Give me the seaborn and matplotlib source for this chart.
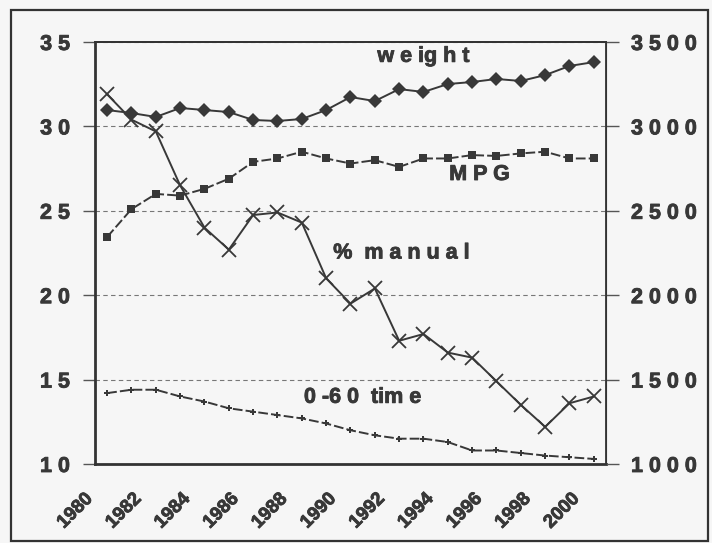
import matplotlib
matplotlib.use("Agg")
import matplotlib.pyplot as plt
import matplotlib.transforms as mtransforms
import matplotlib.patheffects as pe
from matplotlib.patches import Rectangle
import seaborn as sns
import pandas as pd

# ---- data ----
years = list(range(1980, 2001))
weight = [3097, 3079, 3056, 3109, 3097, 3085, 3038, 3032, 3044, 3097, 3174,
          3150, 3221, 3204, 3251, 3263, 3281, 3269, 3304, 3358, 3381]
mpg = [23.45, 25.1, 26.0, 25.9, 26.3, 26.9, 27.9, 28.1, 28.5, 28.1, 27.8,
       28.0, 27.6, 28.1, 28.1, 28.3, 28.25, 28.4, 28.5, 28.1, 28.1]
pct_manual = [31.9, 30.4, 29.7, 26.5, 24.0, 22.7, 24.75, 24.9, 24.3, 21.0, 19.5,
              20.4, 17.3, 17.7, 16.6, 16.3, 14.9, 13.5, 12.2, 13.6, 14.0]
zero60 = [14.2, 14.4, 14.4, 14.0, 13.7, 13.3, 13.1, 12.9, 12.7, 12.4, 12.0,
          11.7, 11.5, 11.5, 11.3, 10.8, 10.8, 10.65, 10.5, 10.4, 10.3]
left_ticks = [10, 15, 20, 25, 30, 35]
right_ticks = [1000, 1500, 2000, 2500, 3000, 3500]
year_labels = list(range(1980, 2001, 2))

df = pd.DataFrame({"year": years, "weight": weight, "mpg": mpg,
                   "manual": pct_manual, "zero60": zero60})

sns.set_style("white")
plt.rcParams["font.family"] = ["Liberation Sans", "DejaVu Sans"]
plt.rcParams["font.weight"] = "bold"

INK = "#383838"
BG = "#f6f6f6"
thick = [pe.withStroke(linewidth=0.6, foreground=INK)]

fig = plt.figure(figsize=(7.12, 5.43), dpi=100, facecolor=BG)
ax = fig.add_axes([95 / 712, 79 / 543, 511 / 712, 422 / 543])
ax.set_facecolor(BG)
ax2 = ax.twinx()

lw = 1.4
sns.lineplot(data=df, x="year", y="mpg", ax=ax, color=INK, lw=lw,
             linestyle=(0, (5, 1.6)), marker="s", markersize=5.5,
             markeredgewidth=0, markerfacecolor=INK)
sns.lineplot(data=df, x="year", y="manual", ax=ax, color=INK, lw=lw,
             marker="x", markersize=9.5, markeredgewidth=1.3,
             markeredgecolor=INK)
sns.lineplot(data=df, x="year", y="zero60", ax=ax, color=INK, lw=lw,
             linestyle=(0, (5, 1.6)), marker="P", markersize=4.5,
             markeredgewidth=0, markerfacecolor=INK)
sns.lineplot(data=df, x="year", y="weight", ax=ax2, color=INK, lw=lw,
             marker="D", markersize=7, markeredgewidth=0,
             markerfacecolor=INK)

# axes limits
ax.set_xlim(years[0] - 0.5, years[-1] + 0.5)
ax.set_ylim(10, 35)
ax2.set_ylim(1000, 3500)

# y ticks (digits spaced like the original)
def spaced(v):
    return " ".join(str(v))

ax.set_yticks(left_ticks)
ax.set_yticklabels([spaced(v) for v in left_ticks], fontsize=15.5,
                   fontweight="bold", color=INK)
ax2.set_yticks(right_ticks)
ax2.set_yticklabels([spaced(v) for v in right_ticks], fontsize=15.5,
                    fontweight="bold", color=INK)
ax.tick_params(axis="y", direction="out", length=9, width=1, color="#555555",
               pad=9)
ax2.tick_params(axis="y", direction="out", length=9, width=1, color="#555555",
                pad=9)

# x ticks: marks between categories, labels every second year
ax.set_xticks([y - 0.5 for y in years] + [years[-1] + 0.5], minor=True)
ax.set_xticks(year_labels)
ax.set_xticklabels([str(y) for y in year_labels], rotation=45, ha="right",
                   fontsize=13.5, fontweight="bold", color=INK)
ax.tick_params(axis="x", which="major", length=0, pad=2)
ax.tick_params(axis="x", which="minor", direction="out", length=5, width=1,
               color="#555555")
offset = mtransforms.ScaledTranslation(-8 / 72, -17 / 72, fig.dpi_scale_trans)
for lab in ax.get_xticklabels():
    lab.set_transform(lab.get_transform() + offset)

for lab in ax.get_yticklabels() + ax2.get_yticklabels() + ax.get_xticklabels():
    lab.set_path_effects(thick)

ax.set_xlabel("")
ax.set_ylabel("")
ax2.set_ylabel("")

# gridlines
ax.yaxis.grid(True, color="#777777", linestyle=(0, (4, 3)), linewidth=0.8)
ax.set_axisbelow(True)
ax2.grid(False)

# spines
for a in (ax, ax2):
    for s in a.spines.values():
        s.set_color("#333333")
ax.spines["left"].set_linewidth(2.0)
ax.spines["bottom"].set_linewidth(2.0)
ax.spines["top"].set_linewidth(1.3)
ax2.spines["right"].set_linewidth(1.3)
ax2.spines["top"].set_linewidth(1.3)
ax2.spines["left"].set_visible(False)
ax2.spines["bottom"].set_visible(False)

# series labels
lab_kw = dict(fontsize=15.5, fontweight="bold", color=INK, ha="center",
              va="center", path_effects=thick)
ax.text(1993.0, 34.15, "w e ig h t", **lab_kw)
ax.text(1995.3, 27.15, "M P G", **lab_kw)
ax.text(1992.1, 22.5, "%  m a n u a l", **lab_kw)
ax.text(1990.5, 13.95, "0 -6 0  tim e", **lab_kw)

# outer frame
fig.patches.append(Rectangle((11 / 712, 2 / 543), 697 / 712, 531 / 543,
                             transform=fig.transFigure, fill=False,
                             edgecolor="#333333", linewidth=1.6))

fig.savefig("out.png", dpi=100, facecolor=BG)
